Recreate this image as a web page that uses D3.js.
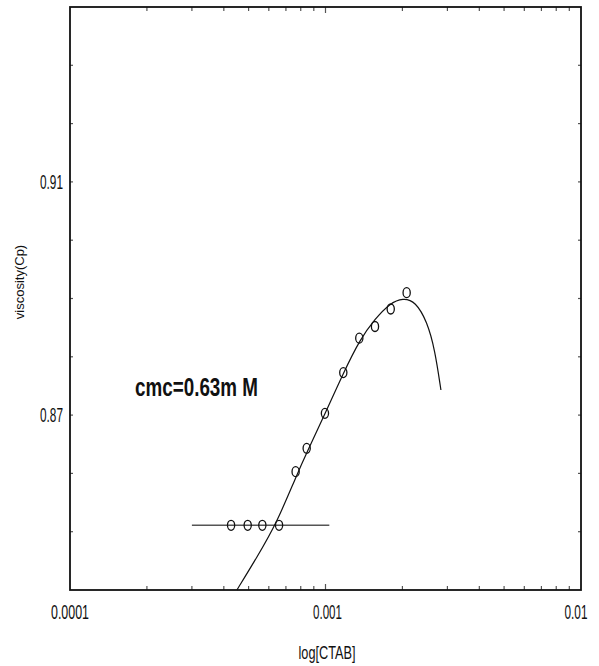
<!DOCTYPE html>
<html><head><meta charset="utf-8">
<script src="https://cdn.jsdelivr.net/npm/d3@7"></script>
<style>body{margin:0;background:#fff}svg{display:block}</style></head>
<body><svg id="c" width="599" height="666"></svg>
<script>
// measured points: CTAB concentration (M) vs viscosity (cP)
const concentration = [4.27e-4, 4.96e-4, 5.66e-4, 6.58e-4, 7.64e-4, 8.44e-4, 9.95e-4, 1.174e-3, 1.356e-3, 1.562e-3, 1.80e-3, 2.078e-3];
const viscosity     = [0.8511, 0.8511, 0.8511, 0.8511, 0.8603, 0.8643, 0.8703, 0.8773, 0.8832, 0.8852, 0.8882, 0.8910];
// fitted curve samples
const fitConc = [4.50e-4, 5.39e-4, 6.46e-4, 7.64e-4, 8.54e-4, 9.95e-4, 1.171e-3, 1.365e-3, 1.562e-3, 1.788e-3, 2.011e-3, 2.25e-3, 2.50e-3, 2.68e-3, 2.83e-3];
const fitVisc = [0.8400, 0.8456, 0.8516, 0.8593, 0.8640, 0.8702, 0.8771, 0.8830, 0.8865, 0.8892, 0.8901, 0.8895, 0.8860, 0.8812, 0.8743];
// horizontal baseline segment
const baseConc = [3.0e-4, 1.035e-3];
const baseVisc = [0.8511, 0.8511];
// axes
const xDomain = [1e-4, 1e-2];
const yDomain = [0.84, 0.94];
const xTickValues = [1e-4, 1e-3, 1e-2];
const xTickLabels = ["0.0001", "0.001", "0.01"];
const xMinorTicks = [2e-4,3e-4,4e-4,5e-4,6e-4,7e-4,8e-4,9e-4,2e-3,3e-3,4e-3,5e-3,6e-3,7e-3,8e-3,9e-3];
const yTickValues = [0.87, 0.91];
const yTickLabels = ["0.87", "0.91"];
const yMinorTicks = [0.85,0.86,0.87,0.88,0.89,0.90,0.91,0.92,0.93];
const xTitle = "log[CTAB]";
const yTitle = "viscosity(Cp)";
const annotation = "cmc=0.63m M";

const L = 70, R = 581, T = 7, B = 590;
const svg = d3.select("#c");
const x = d3.scaleLog().domain(xDomain).range([L, R]);
const y = d3.scaleLinear().domain(yDomain).range([B, T]);
const narrow = "'Liberation Sans Narrow','Arial Narrow','Liberation Sans',Arial,sans-serif";

// minor ticks (inside, top & bottom)
const tickCol = "#555";
svg.append("g").selectAll("line").data(xMinorTicks.concat([1e-3])).join("line")
  .attr("x1", d => x(d)).attr("x2", d => x(d))
  .attr("y1", B).attr("y2", d => B - (d === 1e-3 ? 6 : 4))
  .attr("stroke", tickCol).attr("stroke-width", 1.2);
svg.append("g").selectAll("line").data(xMinorTicks.concat([1e-3])).join("line")
  .attr("x1", d => x(d)).attr("x2", d => x(d))
  .attr("y1", T).attr("y2", d => T + (d === 1e-3 ? 6 : 4))
  .attr("stroke", tickCol).attr("stroke-width", 1.2);
svg.append("g").selectAll("line").data(yMinorTicks).join("line")
  .attr("x1", L).attr("x2", L + 3)
  .attr("y1", d => y(d)).attr("y2", d => y(d))
  .attr("stroke", tickCol).attr("stroke-width", 1.2);
svg.append("g").selectAll("line").data(yMinorTicks).join("line")
  .attr("x1", R).attr("x2", R - 3)
  .attr("y1", d => y(d)).attr("y2", d => y(d))
  .attr("stroke", tickCol).attr("stroke-width", 1.2);

// frame
svg.append("rect").attr("x", L).attr("y", T).attr("width", R - L).attr("height", B - T)
  .attr("fill", "none").attr("stroke", "#111").attr("stroke-width", 1.8);

// tick labels (horizontally condensed)
const xLabelShift = [0, 2, -5];
const xLabelWidth = [38, 29, 23];
svg.append("g").selectAll("text").data(xTickValues).join("text")
  .attr("x", (d, i) => x(d) + xLabelShift[i]).attr("y", 619)
  .attr("text-anchor", "middle")
  .attr("font-family", narrow).attr("font-size", 20)
  .attr("fill", "#111")
  .text((d, i) => xTickLabels[i])
  .attr("transform", function(d, i) {
    const cx = x(d) + xLabelShift[i];
    const natural = this.getComputedTextLength() || 1;
    const s = xLabelWidth[i] / natural;
    return `translate(${cx},0) scale(${s},1) translate(${-cx},0)`;
  });
svg.append("g").selectAll("text").data(yTickValues).join("text")
  .attr("x", 63).attr("y", d => y(d) + 7)
  .attr("text-anchor", "end")
  .attr("font-family", narrow).attr("font-size", 20)
  .attr("textLength", 23).attr("lengthAdjust", "spacingAndGlyphs")
  .attr("fill", "#111")
  .text((d, i) => yTickLabels[i]);

// titles
svg.append("text").attr("x", 327).attr("y", 659).attr("text-anchor", "middle")
  .attr("font-family", narrow).attr("font-size", 19)
  .attr("textLength", 57).attr("lengthAdjust", "spacingAndGlyphs")
  .attr("fill", "#111").text(xTitle);
svg.append("text").attr("transform", "translate(24,282) rotate(-90)")
  .attr("text-anchor", "middle")
  .attr("font-family", "'Liberation Sans',Arial,sans-serif").attr("font-size", 13)
  .attr("fill", "#111").text(yTitle);

// annotation
svg.append("text").attr("x", 135).attr("y", 396)
  .attr("font-family", narrow).attr("font-size", 25).attr("font-weight", "bold")
  .attr("textLength", 123).attr("lengthAdjust", "spacingAndGlyphs")
  .attr("fill", "#111").text(annotation);

// baseline segment
svg.append("line")
  .attr("x1", x(baseConc[0])).attr("x2", x(baseConc[1]))
  .attr("y1", y(baseVisc[0])).attr("y2", y(baseVisc[1]))
  .attr("stroke", "#555").attr("stroke-width", 1.5);

// fitted curve
const fit = fitConc.map((c, i) => [c, fitVisc[i]]);
svg.append("path").datum(fit)
  .attr("d", d3.line().x(d => x(d[0])).y(d => y(d[1])).curve(d3.curveBasis))
  .attr("fill", "none").attr("stroke", "#111").attr("stroke-width", 1.2);

// data markers
svg.append("g").selectAll("ellipse").data(concentration).join("ellipse")
  .attr("cx", d => x(d)).attr("cy", (d, i) => y(viscosity[i]))
  .attr("rx", 3.6).attr("ry", 5)
  .attr("fill", "none").attr("stroke", "#111").attr("stroke-width", 1.3);
</script></body></html>
